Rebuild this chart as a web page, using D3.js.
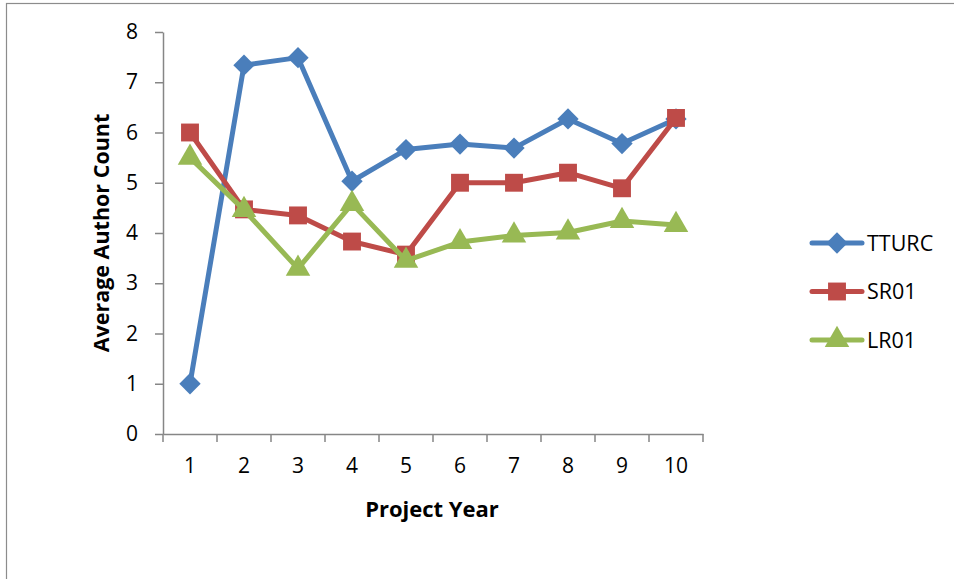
<!DOCTYPE html>
<html>
<head>
<meta charset="utf-8">
<script src="https://cdn.jsdelivr.net/npm/d3@7"></script>
<style>
  body { margin: 0; background: #fff; }
  text { font-family: "Open Sans", "Noto Sans", sans-serif; fill: #000; }
</style>
</head>
<body>
<div id="chart"></div>
<script>
// data
var years = ["1", "2", "3", "4", "5", "6", "7", "8", "9", "10"];
var tturc = [1.0, 7.34, 7.49, 5.03, 5.66, 5.77, 5.69, 6.27, 5.78, 6.27];
var sr01  = [6.0, 4.47, 4.35, 3.83, 3.57, 5.0, 5.0, 5.2, 4.89, 6.29];
var lr01  = [5.5, 4.46, 3.29, 4.58, 3.45, 3.82, 3.95, 4.01, 4.24, 4.16];
var seriesNames = ["TTURC", "SR01", "LR01"];
var yTicks = [0, 1, 2, 3, 4, 5, 6, 7, 8];

var series = [
  {name: seriesNames[0], values: tturc, color: "#4A7EBB", shape: "diamond"},
  {name: seriesNames[1], values: sr01,  color: "#BE4B48", shape: "square"},
  {name: seriesNames[2], values: lr01,  color: "#98B954", shape: "triangle"}
];

var W = 954, H = 579;
var margin = {top: 32, left: 163, right: 251, bottom: 145};
var width = 703 - margin.left, height = 434 - margin.top;

var svg = d3.select("#chart").append("svg")
    .attr("width", W)
    .attr("height", H);

// outer chart frame (only top and left edges show in the photo)
svg.append("rect")
    .attr("x", 6.5).attr("y", 3.5)
    .attr("width", W + 20).attr("height", H + 20)
    .attr("fill", "none")
    .attr("stroke", "#8c8c8c")
    .attr("stroke-width", 1.2);

var g = svg.append("g")
    .attr("transform", "translate(" + margin.left + "," + margin.top + ")");

var x = d3.scaleBand()
    .domain(years)
    .range([0, width]);

var y = d3.scaleLinear()
    .domain([0, 8])
    .range([height, 0]);

// y axis
var yAxis = g.append("g")
    .call(d3.axisLeft(y).tickValues(yTicks).tickSize(8).tickSizeOuter(0).tickPadding(17));
yAxis.selectAll("text").style("font-size", "21px");

// x axis, ticks on category boundaries
var xAxis = g.append("g")
    .attr("transform", "translate(0," + height + ")")
    .call(d3.axisBottom(x).tickSize(0).tickSizeOuter(0).tickPadding(24));
xAxis.selectAll("text").style("font-size", "21px");
g.append("g").selectAll("line")
    .data(d3.range(years.length + 1))
    .enter().append("line")
    .attr("x1", function(i) { return i * x.step(); })
    .attr("x2", function(i) { return i * x.step(); })
    .attr("y1", height)
    .attr("y2", height + 8)
    .attr("stroke", "#868686")
    .attr("stroke-width", 1.5);

g.selectAll(".domain, .tick line")
    .attr("stroke", "#868686")
    .attr("stroke-width", 1.5);

// axis titles
svg.append("text")
    .attr("transform", "translate(109,233) rotate(-90)")
    .attr("text-anchor", "middle")
    .style("font-size", "21.5px")
    .style("font-weight", "bold")
    .text("Average Author Count");

svg.append("text")
    .attr("x", 432).attr("y", 517)
    .attr("text-anchor", "middle")
    .style("font-size", "22px")
    .style("font-weight", "bold")
    .text("Project Year");

var symbols = {
  diamond: d3.symbol().type(d3.symbolDiamond2).size(290),
  square: d3.symbol().type(d3.symbolSquare).size(320),
  triangle: d3.symbol().type(d3.symbolTriangle).size(260)
};

var line = d3.line()
    .x(function(d, i) { return x(years[i]) + x.bandwidth() / 2; })
    .y(function(d) { return y(d); });

series.forEach(function(s) {
  var sg = g.append("g");
  sg.append("path")
      .datum(s.values)
      .attr("fill", "none")
      .attr("stroke", s.color)
      .attr("stroke-width", 5)
      .attr("stroke-linejoin", "round")
      .attr("stroke-linecap", "round")
      .attr("d", line);
  sg.selectAll("path.pt")
      .data(s.values)
      .enter().append("path")
      .attr("class", "pt")
      .attr("transform", function(d, i) {
        return "translate(" + (x(years[i]) + x.bandwidth() / 2) + "," + y(d) + ")";
      })
      .attr("d", symbols[s.shape])
      .attr("fill", s.color);
});

// legend
var legend = svg.append("g")
    .attr("transform", "translate(810,243)");
series.forEach(function(s, i) {
  var lg = legend.append("g")
      .attr("transform", "translate(0," + (i * 48.5) + ")");
  lg.append("line")
      .attr("x1", 2).attr("x2", 52)
      .attr("stroke", s.color)
      .attr("stroke-width", 5)
      .attr("stroke-linecap", "round");
  lg.append("path")
      .attr("transform", "translate(27,0)")
      .attr("d", symbols[s.shape])
      .attr("fill", s.color);
  lg.append("text")
      .attr("x", 57)
      .attr("dy", "0.35em")
      .style("font-size", "21.5px")
      .text(s.name);
});
</script>
</body>
</html>
